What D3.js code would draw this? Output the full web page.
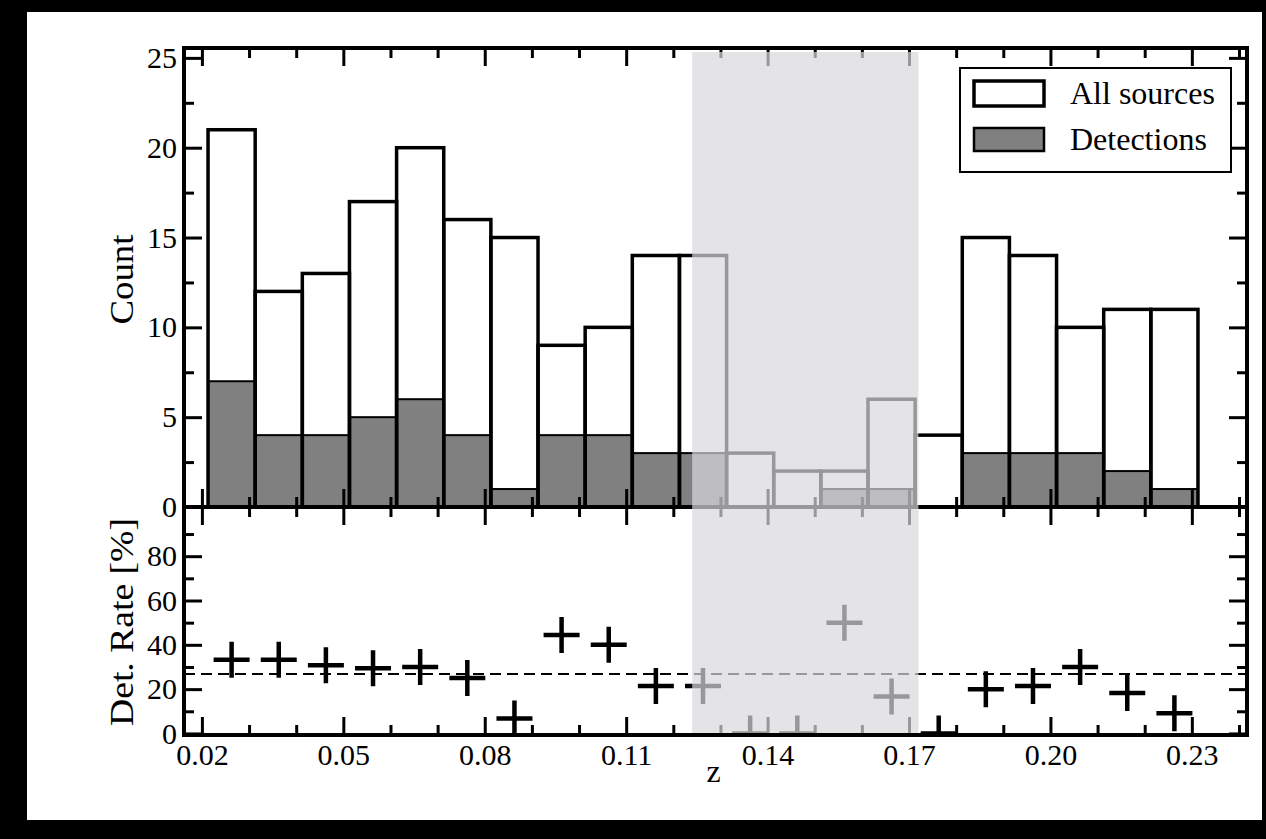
<!DOCTYPE html>
<html><head><meta charset="utf-8">
<script src="https://cdn.jsdelivr.net/npm/d3@7"></script>
<style>
html,body{margin:0;padding:0;background:#000;}
svg{display:block;}
text{font-family:"Liberation Serif","Times New Roman",serif;fill:#000;}
</style></head>
<body>
<svg id="chart" width="1266" height="839"></svg>
<script>
// ---------------- DATA ----------------
const binLeft = [0.0213,0.0313,0.0413,0.0513,0.0613,0.0713,0.0813,0.0913,0.1013,0.1113,0.1213,
                 0.1313,0.1413,0.1513,0.1613,0.1713,0.1813,0.1913,0.2013,0.2113,0.2213];
const binWidth = 0.01;
const allSources = [21,12,13,17,20,16,15,9,10,14,14,3,2,2,6,4,15,14,10,11,11];
const detections = [7,4,4,5,6,4,1,4,4,3,3,0,0,1,1,0,3,3,3,2,1];
const detRate = [33.3,33.3,30.8,29.4,30.0,25.0,6.7,44.4,40.0,21.4,21.4,0,0,50.0,16.7,0,20.0,21.4,30.0,18.2,9.1];
const meanRate = 26.8;
const shadedRange = [0.124, 0.172];
const xMajorTicks = [0.02,0.05,0.08,0.11,0.14,0.17,0.20,0.23];
const xTickLabels = ["0.02","0.05","0.08","0.11","0.14","0.17","0.20","0.23"];
const xMinorTicks = [0.03,0.04,0.06,0.07,0.09,0.10,0.12,0.13,0.15,0.16,0.18,0.19,0.21,0.22,0.24];
const countMajorTicks = [0,5,10,15,20,25];
const countMinorTicks = [2.5,7.5,12.5,17.5,22.5];
const rateMajorTicks = [0,20,40,60,80];
const rateMinorTicks = [10,30,50,70,90];
const legendLabels = ["All sources","Detections"];

// ---------------- LAYOUT ----------------
const L=184, R=1247, T=48, M=507, B=735;
const svg = d3.select("#chart");
svg.append("rect").attr("x",27).attr("y",12).attr("width",1235).attr("height",808).attr("fill","#fff");

const x = d3.scaleLinear().domain([0.0162,0.2417]).range([L,R]);
const yC = d3.scaleLinear().domain([0,25.55]).range([M,T]);
const yR = d3.scaleLinear().domain([-0.7,102.2]).range([B,M]);

const defs = svg.append("defs");
defs.append("clipPath").attr("id","clipLow").append("rect")
  .attr("x",L).attr("y",M).attr("width",R-L).attr("height",yR(0)-M);

const bins = binLeft.map((b,i)=>({x0:b,x1:b+binWidth,all:allSources[i],det:detections[i],rate:detRate[i]}));

// upper panel bars
const gTop = svg.append("g");
gTop.selectAll("rect.allfill").data(bins).join("rect")
  .attr("x",d=>x(d.x0)).attr("width",d=>x(d.x1)-x(d.x0))
  .attr("y",d=>yC(d.all)).attr("height",d=>yC(0)-yC(d.all))
  .attr("fill","#fff");
gTop.selectAll("rect.det").data(bins.filter(d=>d.det>0)).join("rect")
  .attr("x",d=>x(d.x0)).attr("width",d=>x(d.x1)-x(d.x0))
  .attr("y",d=>yC(d.det)).attr("height",d=>yC(0)-yC(d.det))
  .attr("fill","#808080").attr("stroke","#000").attr("stroke-width",2);
gTop.selectAll("rect.all").data(bins).join("rect")
  .attr("x",d=>x(d.x0)).attr("width",d=>x(d.x1)-x(d.x0))
  .attr("y",d=>yC(d.all)).attr("height",d=>yC(0)-yC(d.all))
  .attr("fill","none").attr("stroke","#000").attr("stroke-width",3.5);

// lower panel
const gLow = svg.append("g").attr("clip-path","url(#clipLow)");
gLow.append("line").attr("x1",L).attr("x2",R).attr("y1",yR(meanRate)).attr("y2",yR(meanRate))
  .attr("stroke","#000").attr("stroke-width",2).attr("stroke-dasharray","11,6");
const half = 18;
const cross = gLow.selectAll("g.cross").data(bins).join("g")
  .attr("transform",d=>`translate(${x((d.x0+d.x1)/2)},${yR(d.rate)})`);
cross.append("line").attr("x1",-half).attr("x2",half).attr("y1",0).attr("y2",0)
  .attr("stroke","#000").attr("stroke-width",4.5);
cross.append("line").attr("x1",0).attr("x2",0).attr("y1",-half).attr("y2",half)
  .attr("stroke","#000").attr("stroke-width",4.5);

// ticks (inward)
function ticks(axis, transform){
  const g = svg.append("g").attr("transform",transform).call(axis);
  g.select(".domain").remove();
  g.selectAll("text").remove();
  g.selectAll("line").attr("stroke","#000").attr("stroke-width",3);
  return g;
}
const maj=18, mnr=10;
ticks(d3.axisTop(x).tickValues(xMajorTicks).tickSize(-maj), `translate(0,${T})`);
ticks(d3.axisTop(x).tickValues(xMinorTicks).tickSize(-mnr), `translate(0,${T})`);
ticks(d3.axisBottom(x).tickValues(xMajorTicks).tickSize(-maj), `translate(0,${M})`);
ticks(d3.axisBottom(x).tickValues(xMinorTicks).tickSize(-mnr), `translate(0,${M})`);
ticks(d3.axisTop(x).tickValues(xMajorTicks).tickSize(-maj), `translate(0,${M})`);
ticks(d3.axisTop(x).tickValues(xMinorTicks).tickSize(-mnr), `translate(0,${M})`);
ticks(d3.axisBottom(x).tickValues(xMajorTicks).tickSize(-maj), `translate(0,${B})`);
ticks(d3.axisBottom(x).tickValues(xMinorTicks).tickSize(-mnr), `translate(0,${B})`);
ticks(d3.axisLeft(yC).tickValues(countMajorTicks).tickSize(-maj), `translate(${L},0)`);
ticks(d3.axisLeft(yC).tickValues(countMinorTicks).tickSize(-mnr), `translate(${L},0)`);
ticks(d3.axisRight(yC).tickValues(countMajorTicks).tickSize(-maj), `translate(${R},0)`);
ticks(d3.axisRight(yC).tickValues(countMinorTicks).tickSize(-mnr), `translate(${R},0)`);
ticks(d3.axisLeft(yR).tickValues(rateMajorTicks).tickSize(-maj), `translate(${L},0)`);
ticks(d3.axisLeft(yR).tickValues(rateMinorTicks).tickSize(-mnr), `translate(${L},0)`);
ticks(d3.axisRight(yR).tickValues(rateMajorTicks).tickSize(-maj), `translate(${R},0)`);
ticks(d3.axisRight(yR).tickValues(rateMinorTicks).tickSize(-mnr), `translate(${R},0)`);

// divider (under shading)
svg.append("line").attr("x1",L).attr("x2",R).attr("y1",M).attr("y2",M)
  .attr("stroke","#000").attr("stroke-width",4);

// shaded band
svg.append("rect").attr("x",x(shadedRange[0])).attr("width",x(shadedRange[1])-x(shadedRange[0]))
  .attr("y",T+4).attr("height",yR(0)-T-4)
  .attr("fill","rgb(216,216,219)").attr("fill-opacity",0.7);

// frame
const fr = svg.append("g").attr("stroke","#000").attr("stroke-width",4).attr("stroke-linecap","square");
fr.append("line").attr("x1",L).attr("x2",R).attr("y1",T).attr("y2",T);
fr.append("line").attr("x1",L).attr("x2",R).attr("y1",B).attr("y2",B);
fr.append("line").attr("x1",L).attr("x2",L).attr("y1",T).attr("y2",B);
fr.append("line").attr("x1",R).attr("x2",R).attr("y1",T).attr("y2",B);

// tick labels
function labels(axis, transform){
  const g = svg.append("g").attr("transform",transform).call(axis);
  g.select(".domain").remove();
  g.selectAll("line").remove();
  g.selectAll("text").attr("font-family","Liberation Serif").attr("font-size",30).attr("fill","#000");
  return g;
}
labels(d3.axisLeft(yC).tickValues(countMajorTicks).tickSize(0).tickPadding(7).tickFormat(d3.format("d")), `translate(${L},0)`);
labels(d3.axisLeft(yR).tickValues(rateMajorTicks).tickSize(0).tickPadding(7).tickFormat(d3.format("d")), `translate(${L},0)`);
labels(d3.axisBottom(x).tickValues(xMajorTicks).tickSize(0).tickPadding(9).tickFormat((d,i)=>xTickLabels[i]), `translate(0,${B})`);

// axis titles
svg.append("text").attr("transform",`translate(133,${(T+M)/2+2}) rotate(-90)`).attr("text-anchor","middle")
  .attr("font-size",34).attr("textLength",90).attr("lengthAdjust","spacingAndGlyphs").text("Count");
svg.append("text").attr("transform",`translate(133,${(M+B)/2+1}) rotate(-90)`).attr("text-anchor","middle")
  .attr("font-size",34).attr("textLength",208).attr("lengthAdjust","spacingAndGlyphs").text("Det. Rate [%]");
svg.append("text").attr("x",(L+R)/2-2).attr("y",782).attr("text-anchor","middle")
  .attr("font-size",32).text("z");

// legend
const lg = svg.append("g");
lg.append("rect").attr("x",960).attr("y",68).attr("width",271).attr("height",104)
  .attr("fill","#fff").attr("stroke","#000").attr("stroke-width",2);
lg.append("rect").attr("x",974).attr("y",81).attr("width",70).attr("height",25)
  .attr("fill","#fff").attr("stroke","#000").attr("stroke-width",3.5);
lg.append("rect").attr("x",974).attr("y",128).attr("width",70).attr("height",23)
  .attr("fill","#808080").attr("stroke","#000").attr("stroke-width",2.5);
lg.append("text").attr("x",1070).attr("y",104).attr("font-size",32).text(legendLabels[0]);
lg.append("text").attr("x",1070).attr("y",150).attr("font-size",32).text(legendLabels[1]);
</script>
</body></html>
